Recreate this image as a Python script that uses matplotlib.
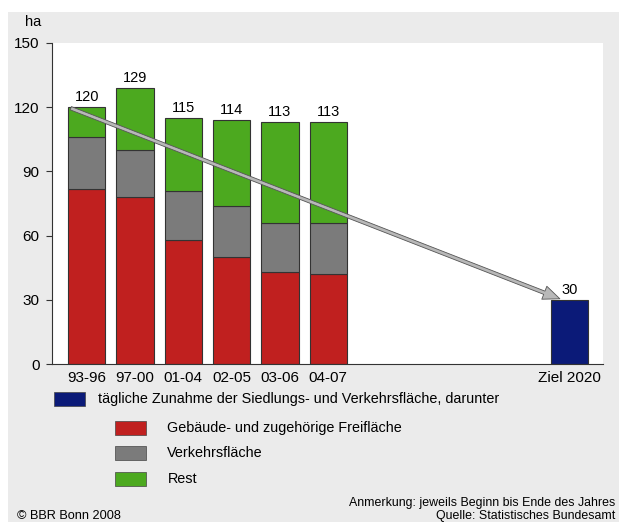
import matplotlib.pyplot as plt
from matplotlib.patches import Rectangle, FancyArrowPatch

plt.rcParams['font.family'] = ['Liberation Sans', 'DejaVu Sans']

# data
periods = ["93-96", "97-00", "01-04", "02-05", "03-06", "04-07"]
gebaeude = [82, 78, 58, 50, 43, 42]
verkehr = [24, 22, 23, 24, 23, 24]
rest = [14, 29, 34, 40, 47, 47]
totals = [120, 129, 115, 114, 113, 113]
ziel_label = "Ziel 2020"
ziel_value = 30

c_red = "#c0201f"
c_gray = "#7b7b7b"
c_green = "#4ca91f"
c_blue = "#0b1a78"
bg = "#ebebeb"

fig = plt.figure(figsize=(6.19, 5.22), dpi=100, facecolor="white")
fig.patches.append(Rectangle((8 / 619, 0), 1, 1 - 12 / 522, transform=fig.transFigure,
                             facecolor=bg, edgecolor="none", zorder=-10))

ax = fig.add_axes([52 / 619, 1 - 364 / 522, (603 - 52) / 619, (364 - 43) / 522])
ax.set_facecolor("white")

x = list(range(len(periods)))
w = 0.77
bottom2 = [g + v for g, v in zip(gebaeude, verkehr)]
ax.bar(x, gebaeude, w, color=c_red, edgecolor="#333333", linewidth=0.8)
ax.bar(x, verkehr, w, bottom=gebaeude, color=c_gray, edgecolor="#333333", linewidth=0.8)
ax.bar(x, rest, w, bottom=bottom2, color=c_green, edgecolor="#333333", linewidth=0.8)
xz = 10
ax.bar([xz], [ziel_value], w, color=c_blue, edgecolor="#333333", linewidth=0.8)

for xi, t in zip(x, totals):
    ax.text(xi, t + 1.5, str(t), ha="center", va="bottom", fontsize=10.5)
ax.text(xz, ziel_value + 1.5, str(ziel_value), ha="center", va="bottom", fontsize=10.5)

arrow = FancyArrowPatch((x[0] - w / 2, totals[0]), (xz - 0.15, ziel_value),
                        arrowstyle="simple,head_length=12,head_width=10,tail_width=2.5",
                        facecolor="#b8b8b8", edgecolor="#555555", linewidth=0.6, zorder=5)
ax.add_patch(arrow)

ax.set_xlim(-0.72, 10.69)
ax.set_ylim(0, 150)
ax.set_yticks([0, 30, 60, 90, 120, 150])
ax.set_xticks(x + [xz])
ax.set_xticklabels(periods + [ziel_label])
ax.tick_params(axis="y", length=4, width=0.8, color="#333333", labelsize=11, pad=5)
ax.tick_params(axis="x", length=0, labelsize=11, pad=5)
for s in ["top", "right"]:
    ax.spines[s].set_visible(False)
ax.spines["left"].set_color("#333333")
ax.spines["bottom"].set_color("#333333")
ax.spines["left"].set_linewidth(0.8)
ax.spines["bottom"].set_linewidth(0.8)

fig.text(25 / 619, 1 - 22 / 522, "ha", fontsize=10.5, va="center", ha="left")

# legend
def legend_item(px, py, color, label, tx):
    fig.patches.append(Rectangle((px / 619, 1 - (py + 14) / 522), 31 / 619, 14 / 522,
                                 transform=fig.transFigure, facecolor=color,
                                 edgecolor="#444444", linewidth=0.5))
    fig.text(tx / 619, 1 - (py + 7) / 522, label, fontsize=10.4, va="center", ha="left")

legend_item(54, 392, c_blue, "tägliche Zunahme der Siedlungs- und Verkehrsfläche, darunter", 98)
legend_item(115, 421, c_red, "Gebäude- und zugehörige Freifläche", 167)
legend_item(115, 446, c_gray, "Verkehrsfläche", 167)
legend_item(115, 472, c_green, "Rest", 168)

fig.text(17 / 619, 1 - 516 / 522, "© BBR Bonn 2008", fontsize=9.2, va="center", ha="left")
fig.text(615 / 619, 1 - 503 / 522, "Anmerkung: jeweils Beginn bis Ende des Jahres",
         fontsize=8.9, va="center", ha="right")
fig.text(615 / 619, 1 - 516 / 522, "Quelle: Statistisches Bundesamt",
         fontsize=8.9, va="center", ha="right")

fig.savefig("out.png", dpi=100, facecolor=fig.get_facecolor())
